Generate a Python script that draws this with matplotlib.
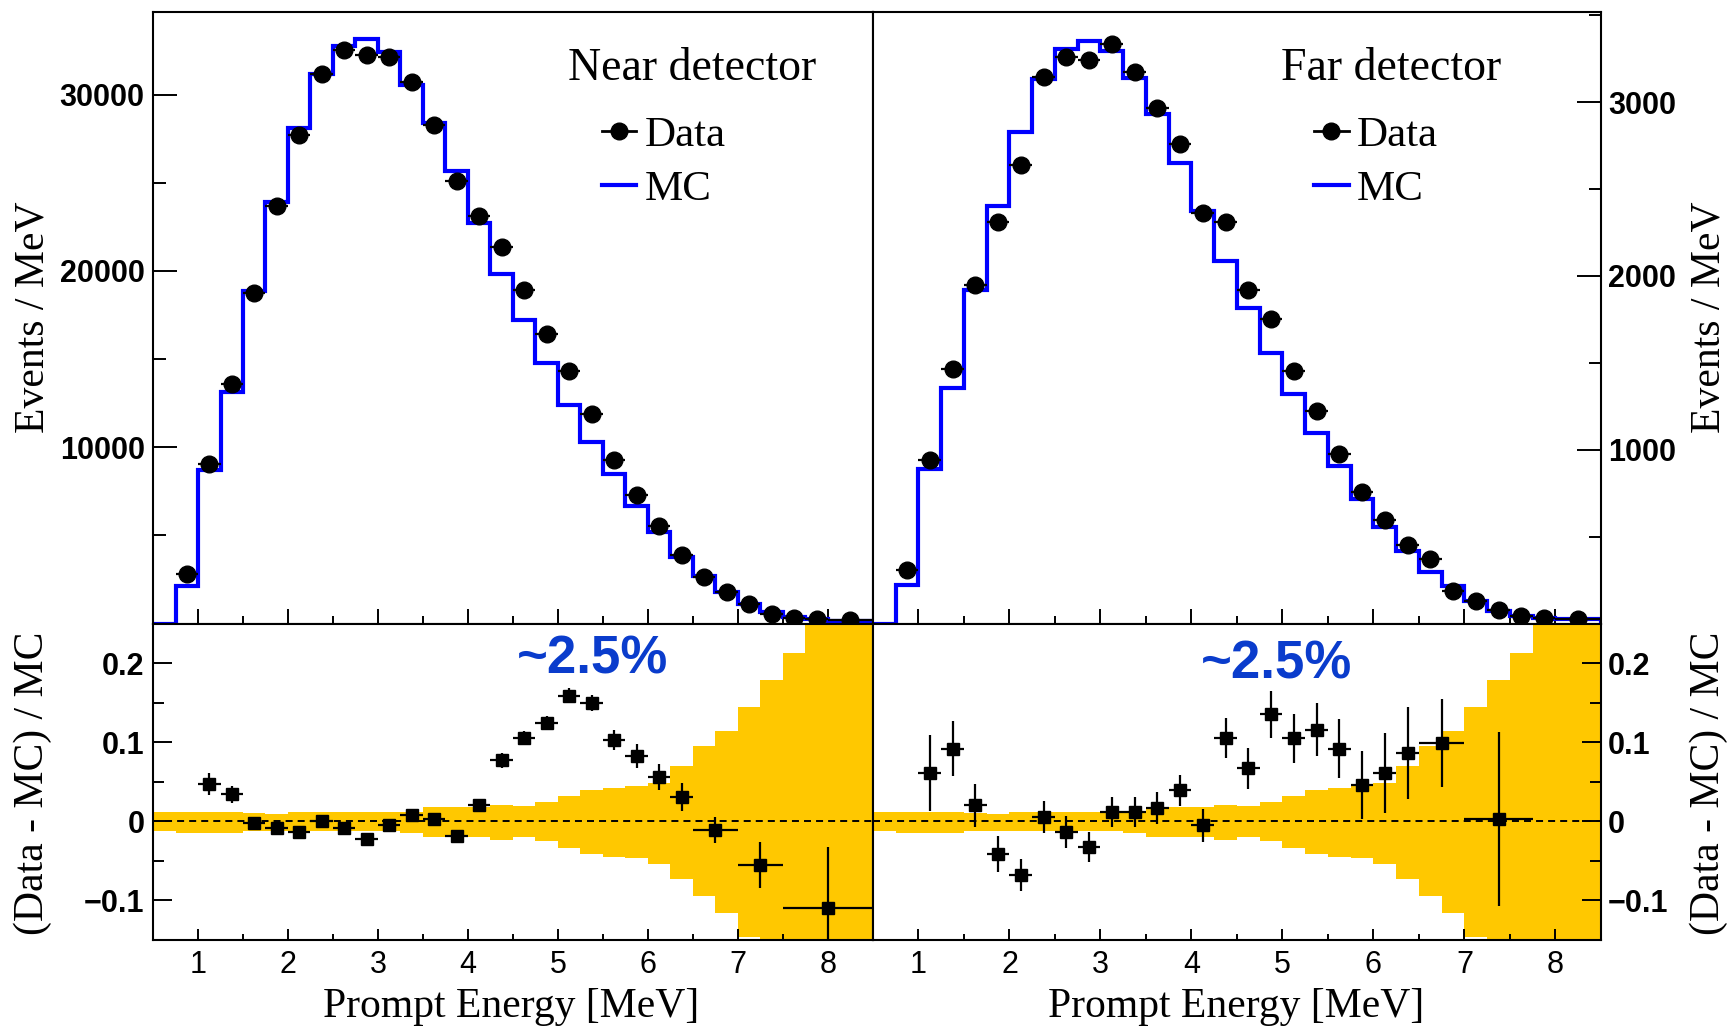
import numpy as np
import matplotlib
matplotlib.use("Agg")
import matplotlib.pyplot as plt
from matplotlib.lines import Line2D
from matplotlib.ticker import MultipleLocator, FixedLocator

# ---- data ----
# top panels: 0.25 MeV bins from 0.5 to 8.0, then one 8.0-8.5 bin
top_edges = np.append(np.arange(0.5, 8.0, 0.25), [8.0, 8.5])
data_x = np.append(np.arange(0.875, 8.0, 0.25), 8.25)
data_xerr = np.append(np.full(29, 0.125), 0.25)

near_mc = [0, 2140, 8680, 13130, 18860, 23920, 28130, 31180, 32770, 33140,
           32410, 30550, 28380, 25680, 22730, 19810, 17240, 14770, 12370, 10280,
           8490, 6690, 5170, 3750, 2670, 1800, 1100, 625, 380, 250, 150]
near_data = [2810, 9020, 13560, 18750, 23680, 27710, 31180, 32500, 32260, 32130,
             30740, 28280, 25100, 23110, 21360, 18940, 16440, 14320, 11860, 9250,
             7260, 5550, 3900, 2650, 1800, 1100, 530, 340, 250, 190]

far_mc = [0, 220, 891, 1357, 1920, 2404, 2829, 3132, 3305, 3352,
          3295, 3140, 2929, 2651, 2375, 2088, 1814, 1558, 1320, 1095,
          906, 716, 557, 415, 295, 214, 129, 72, 43, 33, 28]
far_data = [306, 938, 1462, 1948, 2312, 2638, 3146, 3257, 3241, 3337,
            3174, 2964, 2759, 2360, 2312, 1920, 1750, 1453, 1224, 977,
            754, 596, 453, 371, 185, 129, 75, 43, 33, 28]

# ratio panels
near_rx = np.append(np.arange(1.125, 6.5, 0.25), [6.75, 7.25, 8.0])
near_rxerr = np.append(np.full(22, 0.125), [0.25, 0.25, 0.5])
near_ratio = [0.047, 0.034, -0.002, -0.008, -0.014, 0.0, -0.008, -0.022, -0.005, 0.008,
              0.003, -0.019, 0.020, 0.077, 0.105, 0.124, 0.159, 0.150, 0.103, 0.083,
              0.056, 0.031, -0.011, -0.055, -0.110]
near_rerr = [0.014, 0.011, 0.006, 0.006, 0.006, 0.006, 0.006, 0.006, 0.006, 0.007,
             0.007, 0.007, 0.008, 0.009, 0.009, 0.009, 0.010, 0.010, 0.013, 0.015,
             0.016, 0.0175, 0.016, 0.029, 0.077]

far_rx = np.append(np.arange(1.125, 6.5, 0.25), [6.75, 7.375])
far_rxerr = np.append(np.full(22, 0.125), [0.25, 0.375])
far_ratio = [0.061, 0.092, 0.020, -0.041, -0.068, 0.0055, -0.0135, -0.0325, 0.0114, 0.0114,
             0.017, 0.039, -0.005, 0.105, 0.067, 0.135, 0.105, 0.116, 0.092, 0.046,
             0.061, 0.086, 0.099, 0.003]
far_rerr = [0.048, 0.035, 0.027, 0.023, 0.020, 0.020, 0.020, 0.019, 0.019, 0.019,
            0.020, 0.020, 0.021, 0.025, 0.026, 0.030, 0.031, 0.034, 0.037, 0.043,
            0.050, 0.058, 0.056, 0.110]

# systematic band, 0.25 MeV bins 0.5 - 8.5
band_edges = np.arange(0.5, 8.51, 0.25)
band_up = [0.012, 0.012, 0.012, 0.012, 0.0105, 0.0095, 0.012, 0.012, 0.012, 0.012,
           0.012, 0.012, 0.018, 0.018, 0.018, 0.020, 0.019, 0.024, 0.032, 0.039,
           0.042, 0.045, 0.049, 0.070, 0.095, 0.114, 0.144, 0.178, 0.213, 0.30,
           0.30, 0.30]
band_lo = [-0.012, -0.015, -0.015, -0.015, -0.0125, -0.0125, -0.0125, -0.0125, -0.0125, -0.0125,
           -0.0125, -0.015, -0.020, -0.020, -0.020, -0.023, -0.020, -0.025, -0.034, -0.041,
           -0.045, -0.046, -0.054, -0.073, -0.095, -0.116, -0.146, -0.30, -0.30, -0.30,
           -0.30, -0.30]

SERIF = "Liberation Serif"
SANS = "Liberation Sans"
BAND = "#ffc800"
BLUE_TXT = "#0a3ccc"

fig = plt.figure(figsize=(17.31, 10.29), dpi=100)

L, M, R = 153 / 1731, 873 / 1731, 1601 / 1731
TOP, MID, BOT = 1 - 11.7 / 1029, 1 - 623.5 / 1029, 1 - 940 / 1029

ax_nt = fig.add_axes([L, MID, M - L, TOP - MID])
ax_ft = fig.add_axes([M, MID, R - M, TOP - MID])
ax_nb = fig.add_axes([L, BOT, M - L, MID - BOT])
ax_fb = fig.add_axes([M, BOT, R - M, MID - BOT])


def style_axes(ax, side, top):
    for s in ax.spines.values():
        s.set_linewidth(1.5)
    ax.set_xlim(0.5, 8.5)
    ax.xaxis.set_major_locator(MultipleLocator(1))
    ax.xaxis.set_minor_locator(MultipleLocator(0.5))
    if top:
        xmaj, xmin, ymaj, ymin = 11, 6, 17, 9
    else:
        xmaj, xmin, ymaj, ymin = 8, 4.5, 14, 8
    ax.tick_params(axis="x", which="major", direction="in", length=xmaj, width=1.4,
                   top=False, bottom=True, labelbottom=not top, pad=7,
                   labelsize=22)
    ax.tick_params(axis="x", which="minor", direction="in", length=xmin, width=1.4,
                   top=False, bottom=True)
    if side == "left":
        ax.tick_params(axis="y", which="major", direction="in", length=ymaj, width=1.4,
                       left=True, right=False, labelleft=True, labelright=False, pad=6)
        ax.tick_params(axis="y", which="minor", direction="in", length=ymin, width=1.4,
                       left=True, right=False)
    else:
        ax.tick_params(axis="y", which="major", direction="in", length=ymaj, width=1.4,
                       left=False, right=True, labelleft=False, labelright=True, pad=5)
        ax.tick_params(axis="y", which="minor", direction="in", length=ymin, width=1.4,
                       left=False, right=True)
    for lab in ax.get_xticklabels():
        lab.set_fontfamily(SANS)
        lab.set_fontsize(22)


def top_panel(ax, mc, data, ymax, major, minor, title, title_x, leg_x, side):
    ax.stairs(mc, top_edges, color="#0000ff", lw=3.0, zorder=2)
    ax.errorbar(data_x, data, xerr=data_xerr, fmt="o", color="k", ms=12,
                elinewidth=1.6, capsize=0, zorder=3)
    ax.set_ylim(0, ymax)
    ax.yaxis.set_major_locator(FixedLocator(major))
    ax.yaxis.set_minor_locator(MultipleLocator(minor))
    style_axes(ax, side, True)
    ax.set_yticks(major, [str(v) for v in major])
    for lab in ax.get_yticklabels():
        lab.set_fontfamily(SANS)
        lab.set_fontweight("bold")
        lab.set_fontsize(22)
    ax.text(title_x, 0.907, title, transform=ax.transAxes, ha="left", va="center",
            family=SERIF, fontsize=33)
    handles = [Line2D([], [], color="k", marker="o", ms=12, lw=2),
               Line2D([], [], color="#0000ff", lw=3)]
    ax.legend(handles, ["Data", "MC"], loc="upper left", bbox_to_anchor=(leg_x, 0.83),
              frameon=False, borderpad=0, borderaxespad=0, handlelength=0.8,
              handletextpad=0.2, labelspacing=0.35, numpoints=1,
              prop={"family": SERIF, "size": 31})


def ratio_panel(ax, rx, rxerr, ratio, rerr, txt_x, txt_y, side):
    ax.stairs(band_up, band_edges, baseline=band_lo, fill=True, color=BAND,
              lw=0, zorder=1)
    ax.axhline(0, color="k", lw=1.4, ls=(0, (3.6, 2.6)), zorder=2)
    ax.errorbar(rx, ratio, xerr=rxerr, yerr=rerr, fmt="s", color="k", ms=9,
                elinewidth=1.6, capsize=0, zorder=3)
    ax.set_ylim(-0.15, 0.25)
    ax.yaxis.set_minor_locator(MultipleLocator(0.05))
    style_axes(ax, side, False)
    ax.set_yticks([-0.1, 0, 0.1, 0.2], ["\u22120.1", "0", "0.1", "0.2"])
    for lab in ax.get_yticklabels():
        lab.set_fontfamily(SANS)
        lab.set_fontweight("bold")
        lab.set_fontsize(22)
    ax.text(txt_x, txt_y, "~2.5%", transform=ax.transAxes, ha="center", va="center",
            family=SANS, fontweight="bold", fontsize=38, color=BLUE_TXT, zorder=4)


top_panel(ax_nt, near_mc, near_data, 34700, [10000, 20000, 30000], 5000,
          "Near detector", 0.576, 0.6236, "left")
top_panel(ax_ft, far_mc, far_data, 3520, [1000, 2000, 3000], 500,
          "Far detector", 0.560, 0.606, "right")
ratio_panel(ax_nb, near_rx, near_rxerr, near_ratio, near_rerr, 0.61, 0.885, "left")
ratio_panel(ax_fb, far_rx, far_rxerr, far_ratio, far_rerr, 0.554, 0.872, "right")

# axis titles
for x in (33 / 1731, 1709 / 1731):
    fig.text(x, 1 - 317 / 1029, "Events / MeV", rotation=90, ha="center", va="center",
             family=SERIF, fontsize=30)
    fig.text(x, 1 - 783 / 1029, "(Data - MC) / MC", rotation=90, ha="center",
             va="center", family=SERIF, fontsize=30)
for x in (511 / 1731, 1236 / 1731):
    fig.text(x, 1 - 1007 / 1029, "Prompt Energy [MeV]", ha="center", va="center",
             family=SERIF, fontsize=30)

fig.savefig("out.png", dpi=100)
